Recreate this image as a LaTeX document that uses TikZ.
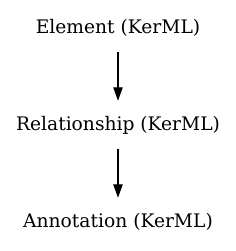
\documentclass[tikz,border=0pt]{standalone}
\usepackage{fontspec}
\setmainfont{DejaVu Serif}
\usetikzlibrary{arrows.meta,positioning}
\definecolor{KerBlack}{HTML}{000000}
\definecolor{KerWhite}{HTML}{ffffff}
\tikzset{
    % Plain text node
    kernode/.style={
        draw=none,
        fill=none,
        inner sep=0pt,
        minimum height=36pt,
        minimum width=1cm,
        align=center,
        font=\fontsize{14pt}{16pt}\selectfont,
        text=KerBlack
    },
    % Arrow style
    kerarrow/.style={
        -{Triangle[length=10pt,width=7pt]},
        line width=0.8pt,
        draw=KerBlack
    }
}
\begin{document}
\begin{tikzpicture}[x=0.75pt,y=-0.75pt]
    % Page frame
    \useasboundingbox[fill=KerWhite] (0,0) rectangle (236,251);

    % Nodes
    \node[kernode] (element) at (118,28) {Element (KerML)};
    \node[kernode] (relationship) at (118,125) {Relationship (KerML)};
    \node[kernode] (annotation) at (118,222) {Annotation (KerML)};

    % Arrows
    \draw[kerarrow] (element) -- (relationship);
    \draw[kerarrow] (relationship) -- (annotation);
\end{tikzpicture}
\end{document}
